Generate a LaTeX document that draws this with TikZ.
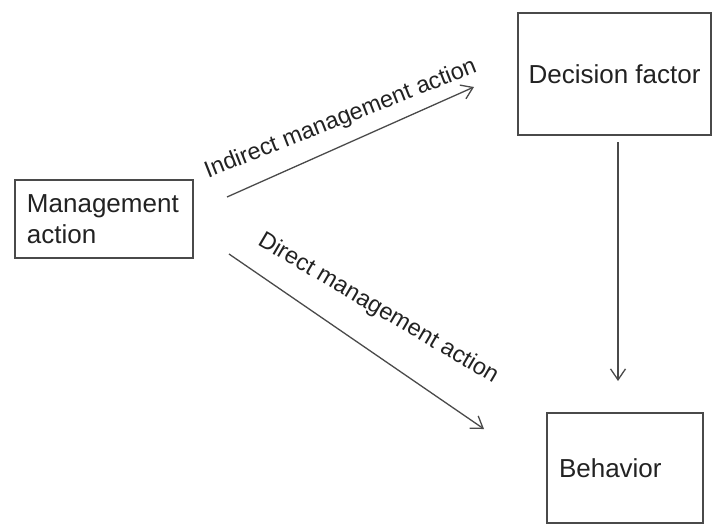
\documentclass[tikz,border=0pt]{standalone}
\usepackage{fontspec}
\setmainfont{Liberation Sans}
\usetikzlibrary{arrows.meta}
\definecolor{linec}{HTML}{4A4A4A}
\definecolor{textc}{HTML}{222222}
\tikzset{
  box/.style={draw=linec, line width=1.8pt, text=textc, inner sep=0pt, font=\fontsize{26}{31}\selectfont},
  conn/.style={draw=linec, line width=1.3pt, -{Straight Barb[length=11pt, width=15pt, line width=1.3pt]}},
  lab/.style={text=textc, inner sep=0pt, anchor=base, font=\fontsize{23.5}{28}\selectfont}
}
\begin{document}
\begin{tikzpicture}[x=1pt, y=-1pt]
\useasboundingbox (0,0) rectangle (714,525);
\node[box, minimum width=178pt, minimum height=78pt, text width=154pt, align=left, inner xsep=12pt] (ma) at (104,219) {Management\\action};
\node[box, minimum width=193pt, minimum height=122pt] (df) at (614.5,74) {Decision factor};
\node[box, minimum width=156pt, minimum height=110pt, text width=132pt, align=left, inner xsep=12pt] (bh) at (625,468) {Behavior};
\coordinate (i1) at (227,197);
\coordinate (i2) at (474,87);
\coordinate (d1) at (229,254);
\coordinate (d2) at (484,429);
\coordinate (v1) at (618,142);
\coordinate (v2) at (618,381);
\draw[conn] (i1) -- (i2);
\draw[conn] (d1) -- (d2);
\draw[conn] (v1) -- (v2);
\node[lab, rotate=21.5] (il) at (343,125) {Indirect management action};
\node[lab, rotate=-30.5] (dl) at (375,314) {Direct management action};
\end{tikzpicture}
\end{document}
